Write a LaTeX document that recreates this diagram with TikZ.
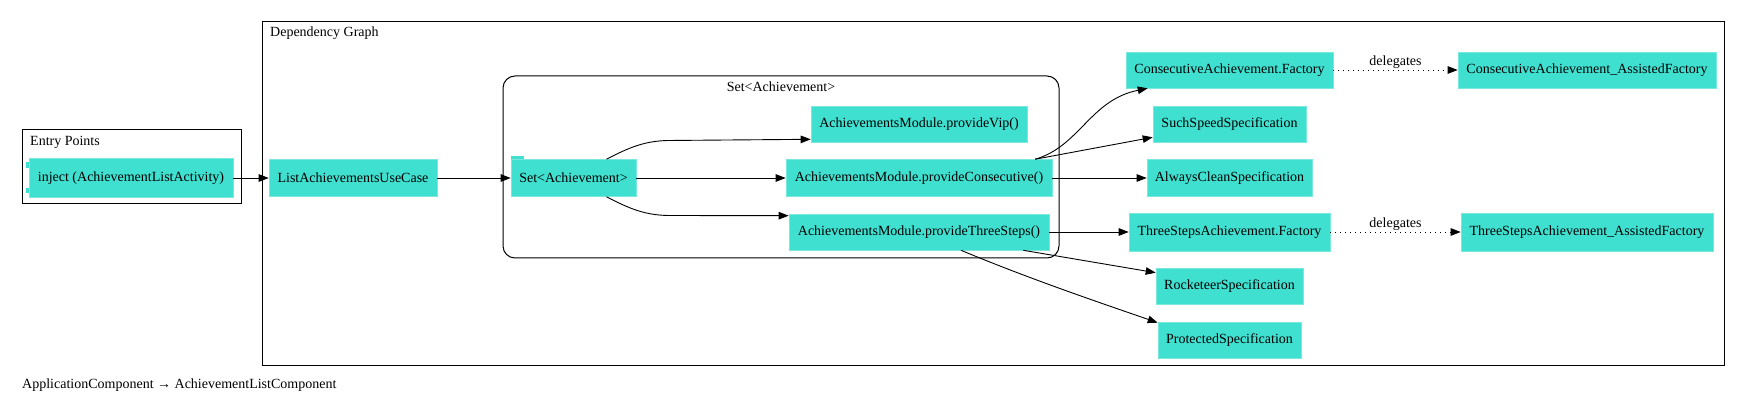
\documentclass[tikz,border=0pt]{standalone}
\usepackage{fontspec}
\setmainfont{Liberation Serif}
\usetikzlibrary{arrows.meta,calc}
\definecolor{turq}{HTML}{40E0D0}
\begin{document}
\begin{tikzpicture}[x=1pt,y=-1pt,
  every node/.style={font=\fontsize{14}{16}\selectfont},
  nd/.style={fill=turq, draw=turq!70!white, line width=0.6pt, inner sep=0pt, minimum height=37pt, anchor=center},
  cl/.style={draw=black, line width=1pt},
  arr/.style={draw=black, line width=0.9pt, -{Triangle[length=10pt,width=7.5pt]}},
  dotarr/.style={arr, dash pattern=on 1pt off 4pt},
  lbl/.style={inner sep=0pt}
]
\useasboundingbox (0,0) rectangle (1746,411);
% clusters
\draw[cl] (22,130) rectangle (241,204);
\node[lbl, anchor=west] (eplbl) at (30,142) {Entry Points};
\draw[cl] (262,22) rectangle (1724,366);
\node[lbl, anchor=west] (dglbl) at (270,33) {Dependency Graph};
\draw[cl, rounded corners=12pt] (503,76) rectangle (1059,258);
\node[lbl] (setlbl) at (781,87) {Set<Achievement>};
% component tabs of inject
\fill[turq] (26,162) rectangle (30,168);
\fill[turq] (26,188) rectangle (30,193);
% tab of set node
\fill[turq] (511,156) rectangle (524,160);
% nodes
\node[nd, minimum width=204pt, minimum height=39pt] (inject) at (131,178) {inject (AchievementListActivity)};
\node[nd, minimum width=168pt] (list) at (353,178) {ListAchievementsUseCase};
\node[nd, minimum width=125pt] (set) at (573.5,178) {Set<Achievement>};
\node[nd, minimum width=216pt, minimum height=36pt] (vip) at (919,124) {AchievementsModule.provideVip()};
\node[nd, minimum width=266pt] (cons) at (919,178) {AchievementsModule.provideConsecutive()};
\node[nd, minimum width=260pt, minimum height=36pt] (three) at (919,232) {AchievementsModule.provideThreeSteps()};
\node[nd, minimum width=207pt, minimum height=36pt] (cfac) at (1229.5,70) {ConsecutiveAchievement.Factory};
\node[nd, minimum width=258pt, minimum height=36pt] (caf) at (1587,70) {ConsecutiveAchievement\_AssistedFactory};
\node[nd, minimum width=153pt, minimum height=36pt] (such) at (1229.5,124) {SuchSpeedSpecification};
\node[nd, minimum width=165pt] (always) at (1229.5,178) {AlwaysCleanSpecification};
\node[nd, minimum width=201pt, minimum height=38pt] (tfac) at (1229.5,232) {ThreeStepsAchievement.Factory};
\node[nd, minimum width=252pt, minimum height=38pt] (taf) at (1587,232) {ThreeStepsAchievement\_AssistedFactory};
\node[nd, minimum width=147pt, minimum height=36pt] (rock) at (1229.5,286) {RocketeerSpecification};
\node[nd, minimum width=143pt, minimum height=36pt] (prot) at (1229.5,340) {ProtectedSpecification};
% edges
\draw[arr] (inject.east) -- (list.west);
\draw[arr] (list.east) -- (set.west);
\draw[arr] (set.east) -- (cons.west);
\draw[arr] ($(set.north)+(33,0)$) .. controls (630,147) and (645,141) .. (668,140.5) -- ($(vip.south west)+(0,-3)$);
\draw[arr] ($(set.south)+(33,0)$) .. controls (630,209) and (645,215) .. (668,215.5) -- ($(three.north west)+(0,2)$);
\draw[arr] ($(cons.north east)+(-17,0)$) .. controls (1080,146) and (1090,100) .. ($(cfac.south west)+(22,0)$);
\draw[arr] ($(cons.north east)+(-17,0)$) -- ($(such.south west)+(0,-5)$);
\draw[arr] (cons.east) -- (always.west);
\draw[arr] (three.east) -- (tfac.west);
\draw[arr] ($(three.south east)+(-26,0)$) -- ($(rock.north west)+(0,5)$);
\draw[arr] ($(three.south)+(42,0)$) .. controls (1030,279) and (1095,301) .. ($(prot.north west)+(0,1)$);
\draw[dotarr] (cfac.east) -- node[lbl, yshift=8pt] (d1) {delegates} (caf.west);
\draw[dotarr] (tfac.east) -- node[lbl, yshift=8pt] (d2) {delegates} (taf.west);
% title
\node[lbl, anchor=west] (title) at (22,385) {ApplicationComponent → AchievementListComponent};
\end{tikzpicture}
\end{document}
